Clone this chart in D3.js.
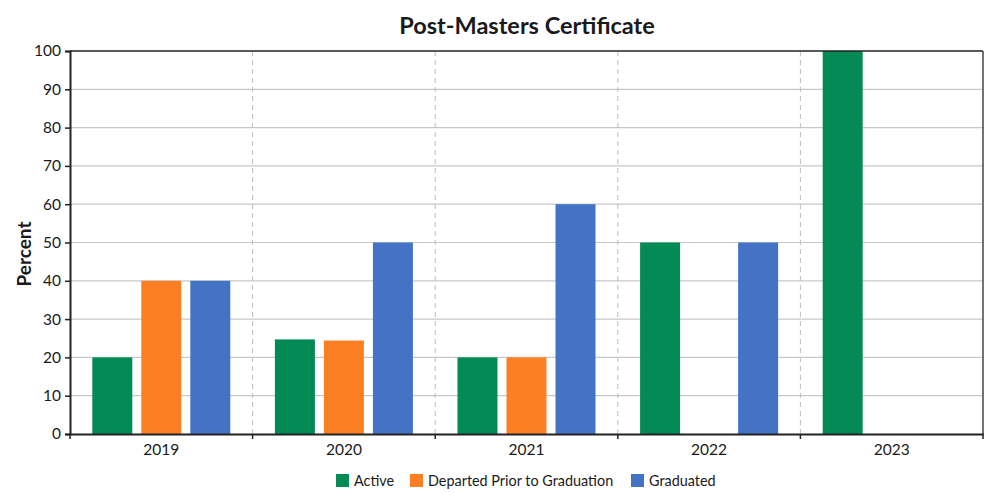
<!DOCTYPE html>
<html>
<head>
<meta charset="utf-8">
<script src="https://cdn.jsdelivr.net/npm/d3@7"></script>
<style>
  body { margin: 0; background: #fff; }
  svg { display: block; font-family: Lato, "Noto Sans", sans-serif; }
</style>
</head>
<body>
<svg id="chart" width="1000" height="493"></svg>
<script>
// data
const years = ["2019", "2020", "2021", "2022", "2023"];
const seriesNames = ["Active", "Departed Prior to Graduation", "Graduated"];
const active = [20, 24.7, 20, 50, 100];
const departed = [40, 24.4, 20, 0, 0];
const graduated = [40, 50, 60, 50, 0];
const yTicks = [0, 10, 20, 30, 40, 50, 60, 70, 80, 90, 100];
const colors = ["#038a55", "#fd7f24", "#4472c4"];

const draw = () => {
    const svg = d3.select("#chart");
    let margin = { top: 51, right: 17, bottom: 59, left: 70 };
    let width = 1000 - margin.left - margin.right;
    let height = 493 - margin.top - margin.bottom;

    let allSeries = [active, departed, graduated];

    let x = d3.scaleBand().domain(years).range([0, width]).padding(0);
    let xInner = d3.scaleBand()
        .domain(seriesNames)
        .range([0, x.bandwidth()])
        .paddingInner(0.184)
        .paddingOuter(0.455);
    let y = d3.scaleLinear().domain([0, 100]).range([height, 0]);

    // title
    svg.append("text")
        .attr("x", 527)
        .attr("y", 34)
        .attr("text-anchor", "middle")
        .attr("font-size", "23.5px")
        .attr("font-weight", "bold")
        .attr("fill", "#1a1a1a")
        .text("Post-Masters Certificate");

    let g = svg.append("g")
        .attr("transform", "translate(" + margin.left + "," + margin.top + ")");

    // horizontal grid
    g.append("g")
        .selectAll("line")
        .data(yTicks.filter(d => d > 0 && d < 100))
        .enter().append("line")
        .attr("x1", 0)
        .attr("x2", width)
        .attr("y1", d => y(d))
        .attr("y2", d => y(d))
        .attr("stroke", "#c8c8c8")
        .attr("stroke-width", 1.2);

    // dashed category separators
    g.append("g")
        .selectAll("line")
        .data(years.slice(1))
        .enter().append("line")
        .attr("x1", d => x(d))
        .attr("x2", d => x(d))
        .attr("y1", 0)
        .attr("y2", height)
        .attr("stroke", "#bdbdbd")
        .attr("stroke-width", 1)
        .attr("stroke-dasharray", "5,4");

    // bars
    let groups = g.selectAll(".year")
        .data(years)
        .enter().append("g")
        .attr("class", "year")
        .attr("transform", d => "translate(" + x(d) + ",0)");

    groups.selectAll("rect")
        .data((d, i) => seriesNames.map((s, j) => ({ name: s, value: allSeries[j][i], j: j })))
        .enter().append("rect")
        .attr("x", d => xInner(d.name))
        .attr("y", d => y(d.value))
        .attr("width", xInner.bandwidth())
        .attr("height", d => height - y(d.value))
        .attr("fill", d => colors[d.j]);

    // frame top and right
    g.append("line")
        .attr("x1", 0).attr("x2", width)
        .attr("y1", 0).attr("y2", 0)
        .attr("stroke", "#222").attr("stroke-width", 1.5);
    g.append("line")
        .attr("x1", width).attr("x2", width)
        .attr("y1", 0).attr("y2", height)
        .attr("stroke", "#444").attr("stroke-width", 1.5);

    // y axis
    let yAxis = g.append("g")
        .call(d3.axisLeft(y).tickValues(yTicks).tickSize(5).tickPadding(4));
    yAxis.select(".domain").attr("stroke", "#222").attr("stroke-width", 2);
    yAxis.selectAll(".tick line").attr("stroke", "#222").attr("stroke-width", 1.5);
    yAxis.selectAll("text")
        .attr("font-size", "15.5px")
        .attr("font-family", "Lato, sans-serif")
        .attr("fill", "#1a1a1a");

    // x axis
    let xAxis = g.append("g")
        .attr("transform", "translate(0," + height + ")")
        .call(d3.axisBottom(x).tickSize(0).tickPadding(10));
    xAxis.select(".domain").attr("stroke", "#222").attr("stroke-width", 2);
    xAxis.selectAll("text")
        .attr("font-size", "15.5px")
        .attr("font-family", "Lato, sans-serif")
        .attr("fill", "#1a1a1a");
    // separator ticks below the axis
    g.append("g")
        .selectAll("line")
        .data(years.concat([null]))
        .enter().append("line")
        .attr("x1", d => d === null ? width : x(d))
        .attr("x2", d => d === null ? width : x(d))
        .attr("y1", height)
        .attr("y2", height + 5)
        .attr("stroke", "#222")
        .attr("stroke-width", 1.5);

    // y label
    svg.append("text")
        .attr("transform", "translate(31,254) rotate(-90)")
        .attr("text-anchor", "middle")
        .attr("font-size", "19px")
        .attr("font-weight", "bold")
        .attr("fill", "#1a1a1a")
        .text("Percent");

    // legend
    let legendX = [336, 410, 631];
    let legend = svg.append("g")
        .selectAll("g")
        .data(seriesNames)
        .enter().append("g")
        .attr("transform", (d, i) => "translate(" + legendX[i] + ",474)");
    legend.append("rect")
        .attr("width", 13)
        .attr("height", 13)
        .attr("fill", (d, i) => colors[i]);
    legend.append("text")
        .attr("x", 18)
        .attr("y", 11.5)
        .attr("font-size", "14.4px")
        .attr("fill", "#1a1a1a")
        .text(d => d);
};

draw();
</script>
</body>
</html>
